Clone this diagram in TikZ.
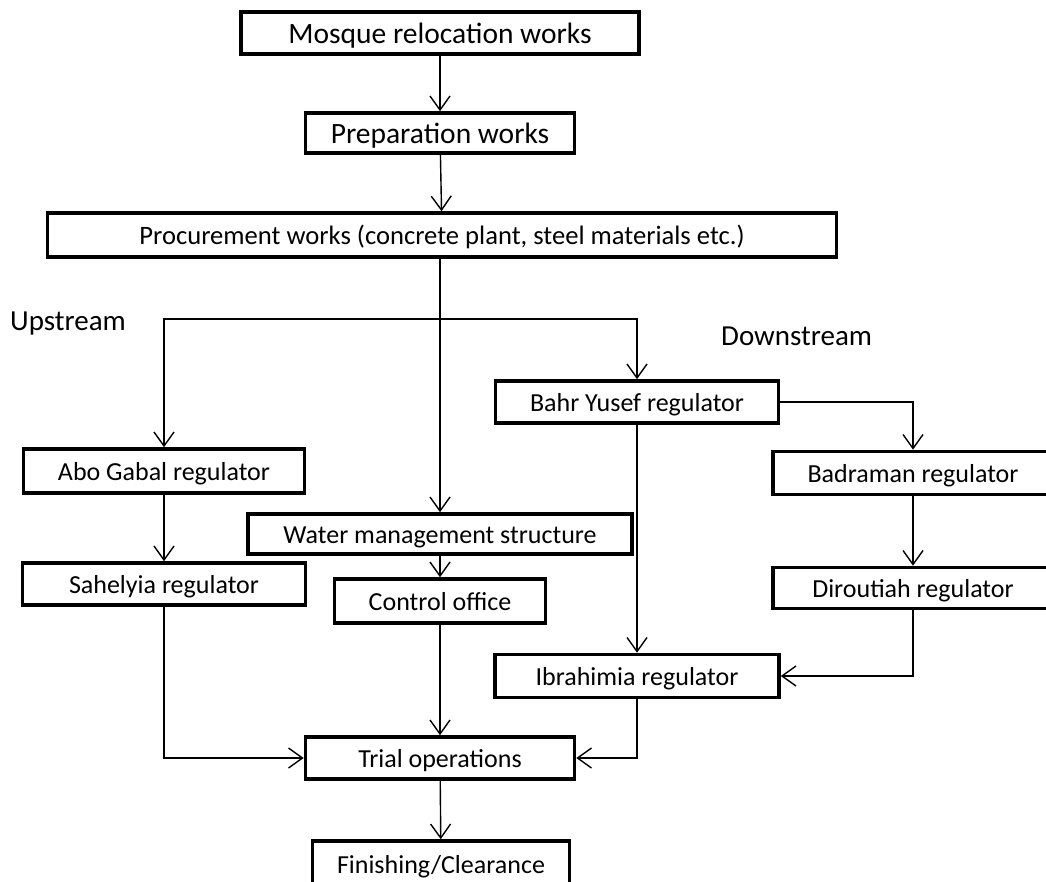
\documentclass[tikz,border=0pt]{standalone}
\usepackage{fontspec}
\setmainfont{Carlito}
\usepackage{tikz}
\usetikzlibrary{arrows.meta}

\begin{document}
\begin{tikzpicture}[
  x=1pt, y=-1pt,
  box/.style={draw, line width=3.6pt, align=center, inner sep=0pt, text height=18pt, text depth=0pt, font=\fontsize{26}{30}\selectfont},
  topbox/.style={box, text height=20pt, font=\fontsize{29.5}{33}\selectfont},
  lbl/.style={inner sep=0pt, anchor=base west, font=\fontsize{29}{33}\selectfont},
  arr/.style={-{Straight Barb[length=14pt, width=20pt]}, line width=1.4pt}
]
\useasboundingbox (0,0) rectangle (1046,881);

\node[topbox, minimum width=398, minimum height=42] (n1) at (440,33) {Mosque relocation works};
\node[topbox, minimum width=269, minimum height=40] (n2) at (440,133) {Preparation works};
\node[box, minimum width=789, minimum height=44, font=\fontsize{26.6}{30}\selectfont] (n3) at (442,235) {Procurement works (concrete plant, steel materials etc.)};

\node[lbl] (lu) at (10,330) {Upstream};
\node[lbl] (ld) at (721,345) {Downstream};

\node[box, minimum width=281, minimum height=44] (u1) at (164,471) {Abo Gabal regulator};
\node[box, minimum width=283, minimum height=42] (u2) at (164,584) {Sahelyia regulator};

\node[box, minimum width=384, minimum height=40] (w1) at (440,534) {Water management structure};
\node[box, minimum width=211, minimum height=44] (w2) at (440,601) {Control office};

\node[box, minimum width=283, minimum height=42] (d1) at (637,402) {Bahr Yusef regulator};
\node[box, minimum width=280, minimum height=43] (d2) at (913,473) {Badraman regulator};
\node[box, minimum width=280, minimum height=41] (d3) at (913,588) {Diroutiah regulator};
\node[box, minimum width=284, minimum height=43] (d4) at (637,676) {Ibrahimia regulator};

\node[box, minimum width=269, minimum height=42] (n4) at (440,758) {Trial operations};
\node[box, minimum width=257, minimum height=46] (n5) at (441,864) {Finishing/Clearance};

\coordinate (j) at (440,319);

\draw[arr] (n1) -- (n2);
\draw[arr] (n2) -- (n3);
\draw[arr] (w1.north |- n3.south) -- (w1.north);
\draw[arr] (j) -| (u1.north);
\draw[arr] (j) -| (d1.north);

\draw[arr] (u1) -- (u2);
\draw[arr] (w1) -- (w2);
\draw[arr] (d1) -- (d4);
\draw[arr] (d1.east) -| (d2.north);
\draw[arr] (d2) -- (d3);
\draw[arr] (d3.south) |- (d4.east);

\draw[arr] (u2.south) |- (n4.west);
\draw[arr] (w2) -- (n4);
\draw[arr] (d4.south) |- (n4.east);
\draw[arr] (n4) -- (n5);
\end{tikzpicture}
\end{document}
